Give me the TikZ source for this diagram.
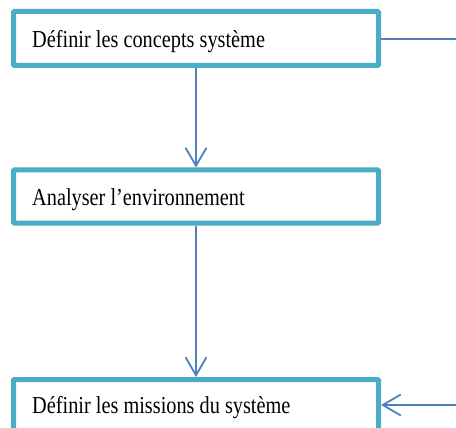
\documentclass[tikz,border=0pt]{standalone}
\usepackage{fontspec}
\setmainfont{Liberation Serif}
\usetikzlibrary{arrows.meta}
\definecolor{boxc}{RGB}{75,172,198}
\definecolor{linec}{RGB}{79,129,189}
\newcommand{\tallt}[1]{\scalebox{1}[1.2]{#1}}
\begin{document}
\begin{tikzpicture}[x=1pt,y=-1pt,
  stepbox/.style={draw=boxc, line width=5pt, rectangle, rounded corners=1pt, inner sep=0pt, minimum width=365pt, fill=white},
  lbl/.style={anchor=base west, inner sep=0pt, font=\fontsize{20.3}{24}\selectfont},
  conn/.style={draw=linec, line width=1.8pt},
  arr/.style={conn, -{Straight Barb[length=18pt,width=21pt,line width=1.8pt]}}]
\useasboundingbox (0,0) rectangle (456,428);
\clip (0,0) rectangle (456,428);
\node[stepbox, minimum height=54pt] (b1) at (196,38.5) {};
\node[stepbox, minimum height=53pt] (b2) at (196,196.5) {};
\node[stepbox, minimum height=60pt] (b3) at (196,409.5) {};
\node[lbl] (t1) at (32,47.7) {\tallt{Définir les concepts système}};
\node[lbl] (t2) at (32,205) {\tallt{Analyser l’environnement}};
\node[lbl] (t3) at (32,413) {\tallt{Définir les missions du système}};
\coordinate (c1) at (456,39);
\coordinate (c2) at (456,405);
\draw[arr] (b1.south) -- (b2.north);
\draw[arr] (b2.south) -- (b3.north);
\draw[conn] (c1 -| b1.east) -- (c1);
\draw[arr] (c2) -- (c2 -| b3.east);
\end{tikzpicture}
\end{document}
